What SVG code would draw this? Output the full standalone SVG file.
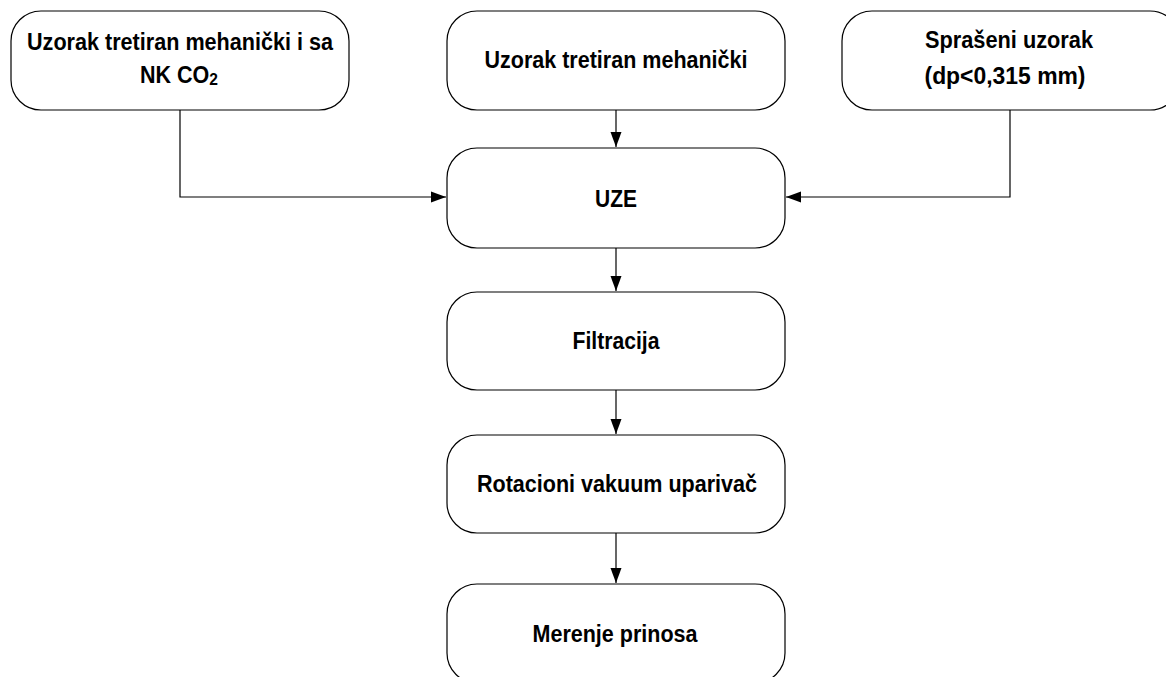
<svg xmlns="http://www.w3.org/2000/svg" width="1166" height="677" viewBox="0 0 1166 677">
<style>
.box{fill:#fff;stroke:#000;stroke-width:1.2}
.lbl{font-family:"Liberation Sans",Arial,sans-serif;font-weight:bold;font-size:23.5px;fill:#000;text-anchor:middle}
.con{fill:none;stroke:#000;stroke-width:1.2}
</style>
<defs>
<marker id="ah" markerUnits="userSpaceOnUse" markerWidth="16" markerHeight="12" refX="15" refY="6" orient="auto">
<path d="M0,0.5 L15,6 L0,11.5 Z" fill="#000"/>
</marker>
</defs>
<rect width="1166" height="677" fill="#fff"/>
<g id="connectors">
<path class="con" d="M180,110 V197 H446" marker-end="url(#ah)"/>
<path class="con" d="M1010,110 V197 H786" marker-end="url(#ah)"/>
<path class="con" d="M616,110 V147" marker-end="url(#ah)"/>
<path class="con" d="M616,248 V291" marker-end="url(#ah)"/>
<path class="con" d="M616,390 V434" marker-end="url(#ah)"/>
<path class="con" d="M616,533 V583" marker-end="url(#ah)"/>
</g>
<g id="n1">
<rect class="box" x="11" y="11" width="338" height="99" rx="30" ry="30"/>
<text class="lbl" x="180" y="50" textLength="306" lengthAdjust="spacingAndGlyphs">Uzorak tretiran mehanički i sa</text>
<text class="lbl" x="179" y="83" textLength="78" lengthAdjust="spacingAndGlyphs">NK CO<tspan font-size="17" dy="2">2</tspan></text>
</g>
<g id="n2">
<rect class="box" x="447" y="11" width="338" height="99" rx="30" ry="30"/>
<text class="lbl" x="616" y="68" textLength="263" lengthAdjust="spacingAndGlyphs">Uzorak tretiran mehanički</text>
</g>
<g id="n3">
<rect class="box" x="842" y="11" width="338" height="99" rx="30" ry="30"/>
<text class="lbl" x="1009" y="48" textLength="168" lengthAdjust="spacingAndGlyphs">Sprašeni uzorak</text>
<text class="lbl" x="1005" y="84" textLength="161" lengthAdjust="spacingAndGlyphs">(dp&lt;0,315 mm)</text>
</g>
<g id="n4">
<rect class="box" x="447" y="148" width="338" height="100" rx="30" ry="30"/>
<text class="lbl" x="616" y="207" textLength="42" lengthAdjust="spacingAndGlyphs">UZE</text>
</g>
<g id="n5">
<rect class="box" x="447" y="292" width="338" height="98" rx="30" ry="30"/>
<text class="lbl" x="616" y="349" textLength="87" lengthAdjust="spacingAndGlyphs">Filtracija</text>
</g>
<g id="n6">
<rect class="box" x="447" y="435" width="338" height="98" rx="30" ry="30"/>
<text class="lbl" x="617" y="492" textLength="280" lengthAdjust="spacingAndGlyphs">Rotacioni vakuum uparivač</text>
</g>
<g id="n7">
<rect class="box" x="447" y="584" width="338" height="99" rx="30" ry="30"/>
<text class="lbl" x="615" y="642" textLength="165" lengthAdjust="spacingAndGlyphs">Merenje prinosa</text>
</g>
</svg>
